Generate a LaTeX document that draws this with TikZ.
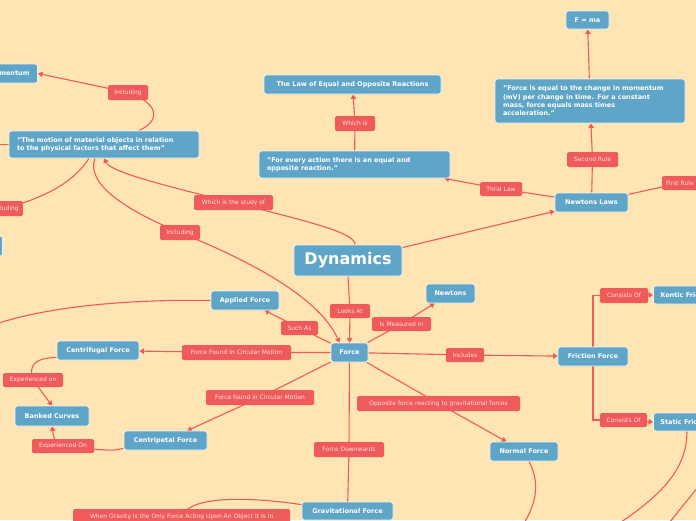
\documentclass[tikz,border=0pt]{standalone}
\usepackage{fontspec}
\setmainfont{DejaVu Sans}
\usetikzlibrary{arrows.meta,calc}
\definecolor{bgc}{RGB}{255,229,180}
\definecolor{nblue}{RGB}{95,165,199}
\definecolor{lred}{RGB}{239,90,90}
\definecolor{ltxt}{RGB}{255,224,224}
\pgfdeclarelayer{back}
\pgfdeclarelayer{edges}
\pgfsetlayers{back,edges,main}
\tikzset{
  bn/.style={draw=white!85!nblue, line width=0.8pt, fill=nblue, rounded corners=2.5pt, text=white,
    font=\bfseries\fontsize{6.5}{8.3}\selectfont, inner sep=0pt, minimum height=19pt},
  rl/.style={fill=lred, rounded corners=1.5pt, text=ltxt, font=\fontsize{6}{7}\selectfont,
    inner sep=0pt, minimum height=15pt},
  ln/.style={draw=lred, line width=1.1pt},
  arr/.style={ln, -{Triangle[length=4.5pt,width=5.5pt]}},
}
\begin{document}
\begin{tikzpicture}[x=1pt,y=-1pt]
\useasboundingbox (0,0) rectangle (696,520);
\begin{pgfonlayer}{back}
\fill[bgc] (0,0) rectangle (696,520);
\end{pgfonlayer}
\begin{scope}
\clip (0,0) rectangle (696,520);
% blue nodes
\node[bn, minimum width=108pt, minimum height=31pt, font=\bfseries\fontsize{16}{18}\selectfont] (dyn) at (348,260.5) {Dynamics};
\node[bn, minimum width=37pt] (force) at (349.5,352.5) {Force};
\node[bn, minimum width=49pt] (newtons) at (450.5,293.5) {Newtons};
\node[bn, minimum width=68pt] (applied) at (245,300.5) {Applied Force};
\node[bn, minimum width=82pt] (centrifugal) at (98,350.5) {Centrifugal Force};
\node[bn, minimum width=74pt, minimum height=20pt] (banked) at (52,416) {Banked Curves};
\node[bn, minimum width=83pt] (centripetal) at (165.5,440.5) {Centripetal Force};
\node[bn, minimum width=91pt, minimum height=18pt] (grav) at (347.5,511) {Gravitational Force};
\node[bn, minimum width=68pt] (normal) at (524,451.5) {Normal Force};
\node[bn, minimum width=70pt] (friction) at (593,356.5) {Friction Force};
\node[bn, anchor=west, inner xsep=7pt, minimum height=18pt] (kentic) at (653,295) {Kentic Friction};
\node[bn, anchor=west, inner xsep=7pt, minimum height=18pt] (static) at (653,422) {Static Friction};
\node[bn, minimum width=73pt] (nlaws) at (591.5,202.5) {Newtons Laws};
\node[bn, minimum width=190pt, minimum height=44pt, text width=174pt, align=left] (forceeq) at (590,101)
  {"Force is equal to the change in momentum\\(mV) per change in time. For a constant\\mass, force equals mass times\\acceleration."};
\node[bn, minimum width=43pt, minimum height=18pt] (fma) at (587.5,20) {F = ma};
\node[bn, minimum width=191pt, minimum height=27pt, text width=175pt, align=left] (action) at (354.5,164.5)
  {"For every action there is an equal and\\opposite reaction."};
\node[bn, minimum width=177pt] (law) at (352.5,84.5) {The Law of Equal and Opposite Reactions};
\node[bn, minimum width=190pt, minimum height=27pt, text width=174pt, align=left] (motion) at (104,144.5)
  {"The motion of material objects in relation\\to the physical factors that affect them"};
\node[bn, anchor=east, inner xsep=8pt] (momentum) at (38,73.5) {Momentum};
\node[bn, anchor=east, minimum width=60pt, minimum height=20pt] (lft) at (3,246) {};
% red labels
\node[rl, minimum width=40pt] (inc1) at (128,92.5) {Including};
\node[rl, anchor=east, inner xsep=4pt] (inc2) at (23,208.5) {Including};
\node[rl, minimum width=79pt] (study) at (233.5,202.5) {Which is the study of};
\node[rl, minimum width=40pt] (inc3) at (180,232.5) {Including};
\node[rl, minimum width=40pt] (whichis) at (355,123.5) {Which is};
\node[rl, minimum width=42pt, minimum height=14pt] (thrid) at (501,189) {Thrid Law};
\node[rl, minimum width=51pt] (second) at (592.5,159.5) {Second Rule};
\node[rl, anchor=west, inner xsep=4pt, minimum height=14pt] (first) at (662,183) {First Rule};
\node[rl, minimum width=40pt, minimum height=14pt] (looks) at (350,311) {Looks At};
\node[rl, minimum width=59pt, minimum height=14pt] (measured) at (401.5,324) {Is Measured In};
\node[rl, minimum width=37pt, minimum height=14pt] (suchas) at (299.5,328) {Such As};
\node[rl, minimum width=109pt] (ffcm1) at (236.5,352.5) {Force Found In Circular Motion};
\node[rl, minimum width=108pt] (ffcm2) at (260,397.5) {Force found in Circular Motion};
\node[rl, minimum width=38pt, minimum height=14pt] (includes) at (465,355) {Includes};
\node[rl, minimum width=163pt] (opposite) at (438.5,403.5) {Opposite force reacting to gravitational forces};
\node[rl, minimum width=70pt] (downwards) at (349,449.5) {Force Downwards};
\node[rl, minimum width=60pt, minimum height=14pt] (expon1) at (33,380) {Experienced on};
\node[rl, minimum width=62pt, minimum height=14pt] (expon2) at (63,446) {Experienced On};
\node[rl, anchor=west, minimum width=217pt] (when) at (73,516.5) {When Gravity Is the Only Force Acting Upon An Object It Is In};
\node[rl, minimum width=48pt] (cons1) at (624,295.5) {Consists Of};
\node[rl, minimum width=47pt, minimum height=14pt] (cons2) at (623.5,420) {Consists Of};
\end{scope}
\coordinate (offA) at (-10,144.5);
\coordinate (offB) at (-10,326);
\coordinate (offC) at (520,530);
\coordinate (offD) at (612,528);
\coordinate (offE) at (702,482);
\coordinate (offF) at (665,528);
\begin{pgfonlayer}{edges}
\clip (0,0) rectangle (696,520);
\draw[arr] (dyn.south) -- (looks.center) -- (force.north);
\draw[arr] (force) -- (measured.center) -- (newtons);
\draw[arr] (force) -- (suchas.center) -- (applied);
\draw[arr] (force) -- (ffcm1.center) -- (centrifugal);
\draw[arr] (force) -- (ffcm2.center) -- (centripetal);
\draw[ln] (force) -- (downwards.center) -- (grav);
\draw[arr] (force) -- (opposite.center) -- (normal);
\draw[arr] (force) -- (includes.center) -- (friction);
\draw[ln] (friction.north) |- (cons1.center);
\draw[arr] (cons1.center) -- (kentic.west);
\draw[ln] (friction.south) |- (cons2.center);
\draw[arr] (cons2.center) -- (static.west);
\draw[arr] (dyn) -- (nlaws);
\draw[arr] (nlaws) -- (thrid.center) -- ($(action.south east)+(-6,0)$);
\draw[arr] (nlaws) -- (second.center) -- (forceeq);
\draw[ln] (nlaws) -- (first.center);
\draw[arr] (action) -- (whichis.center) -- (law);
\draw[arr] (forceeq) -- (fma);
\draw[arr] ($(dyn.north)+(7,0)$) .. controls +(0,-12) and (310,222) .. (study.center)
  .. controls (140,180) and (110,170) .. (motion.south);
\draw[arr] ($(motion.south)+(-9,0)$) .. controls (85,185) and (130,212) .. (inc3.center)
  .. controls (260,265) and (320,300) .. ($(force.north west)+(9,0)$);
\draw[arr] ($(motion.north)+(35,0)$) .. controls (162,120) and (158,103) .. (inc1.center) -- (momentum.east);
\draw[ln] ($(motion.south)+(-15,0)$) .. controls (75,180) and (50,196) .. (inc2.center);
\draw[ln] (motion.west) -- (offA);
\draw[ln] (applied.west) .. controls (120,299) and (40,308) .. (offB);
\draw[ln] ($(centrifugal.south west)+(0,-3)$) .. controls (35,358) and (28,365) .. (expon1.center);
\draw[arr] (expon1.center) -- (banked.north);
\draw[ln] ($(centripetal.south west)+(0,-2)$) .. controls (112,451) .. (expon2.center);
\draw[arr] (expon2.center) .. controls (54,440) .. (banked.south);
\draw[ln] ($(grav.north west)+(0,3)$) .. controls (250,497) and (190,495) .. (when.center);
\draw[ln] ($(normal.south)+(5,0)$) .. controls (541,485) and (536,505) .. (offC);
\draw[ln] ($(static.south west)+(34,0)$) .. controls (687,470) and (660,497) .. (offD);
\draw[ln] (offE) .. controls (690,497) .. (offF);
\end{pgfonlayer}
\end{tikzpicture}
\end{document}
